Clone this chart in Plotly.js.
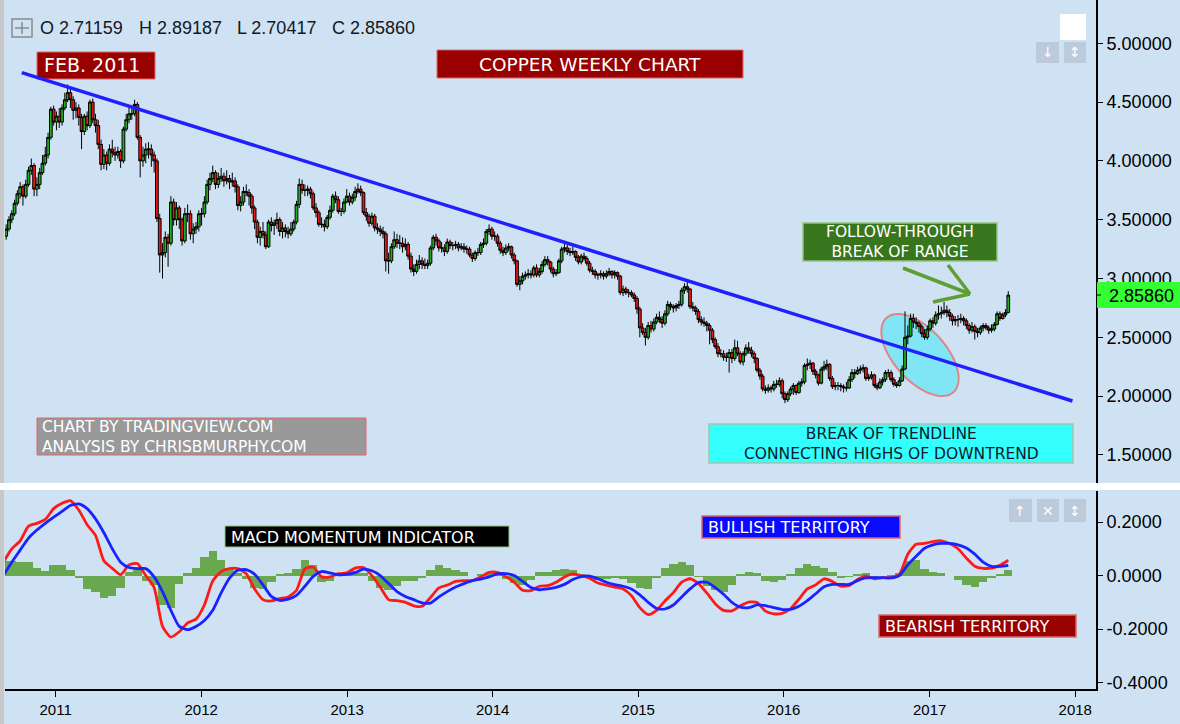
<!DOCTYPE html>
<html><head><meta charset="utf-8">
<script src="https://cdn.plot.ly/plotly-3.0.1.min.js"></script>
<style>html,body{margin:0;padding:0;background:#cfe2f3;}#chart{width:1180px;height:724px;}</style>
</head><body><div id="chart"></div>
<script>
// ---------------- DATA ----------------
const firstWeek = '2010-08-30';   // weekly candles, one per week from here
const opens = [
3.36,3.42,3.50,3.55,3.64,3.72,3.78,3.70,3.80,3.92,3.96,3.76,3.80,3.90,3.98,4.05,4.20,
4.44,4.33,4.38,4.33,4.45,4.52,4.58,4.52,4.43,4.45,4.37,4.25,4.38,4.30,4.50,4.35,4.30,4.14,3.97,4.05,3.98,4.10,4.07,4.05,4.08,4.00,4.27,4.35,4.40,4.40,4.48,4.20,4.00,4.05,4.10,4.10,4.05,4.00,3.51,3.20,3.22,3.35,3.30,3.65,3.50,3.60,3.50,3.32,3.55,3.55,3.38,3.42,
3.44,3.55,3.55,3.65,3.80,3.85,3.90,3.80,3.85,3.87,3.83,3.85,3.82,3.83,3.78,3.62,3.65,3.74,3.73,3.70,3.60,3.48,3.35,3.40,3.37,3.27,3.48,3.45,3.47,3.50,3.40,3.43,3.40,3.38,3.42,3.48,3.63,3.80,3.75,3.75,3.76,3.72,3.60,3.56,3.46,3.46,3.44,3.52,3.58,3.70,3.67,3.57,3.57,
3.65,3.70,3.65,3.69,3.74,3.76,3.73,3.56,3.53,3.47,3.53,3.43,3.42,3.40,3.38,3.15,3.15,3.27,3.33,3.30,3.30,3.27,3.29,3.19,3.08,3.06,3.12,3.15,3.12,3.11,3.13,3.26,3.35,3.32,3.26,3.26,3.23,3.31,3.28,3.28,3.29,3.26,3.27,3.25,3.25,3.20,3.17,3.22,3.22,3.29,3.30,3.40,
3.42,3.36,3.36,3.30,3.24,3.22,3.26,3.27,3.20,3.15,2.95,2.98,3.02,3.03,3.04,3.03,3.09,3.03,3.06,3.12,3.16,3.14,3.08,3.04,3.05,3.15,3.25,3.26,3.23,3.22,3.23,3.18,3.14,3.19,3.17,3.13,3.07,3.06,3.03,3.03,3.04,3.02,3.04,3.06,3.03,3.05,3.02,2.88,2.91,2.88,2.88,2.86,
2.83,2.74,2.58,2.54,2.50,2.60,2.57,2.63,2.67,2.65,2.62,2.70,2.78,2.76,2.75,2.77,2.78,2.90,2.93,2.91,2.76,2.75,2.72,2.65,2.63,2.62,2.60,2.56,2.48,2.42,2.36,2.36,2.33,2.33,2.37,2.32,2.41,2.36,2.29,2.36,2.41,2.39,2.36,2.32,2.22,2.17,2.06,2.05,2.07,2.06,2.10,2.10,
2.13,2.02,1.97,2.02,2.06,2.09,2.03,2.11,2.12,2.26,2.27,2.28,2.21,2.18,2.11,2.23,2.25,2.27,2.15,2.08,2.09,2.09,2.08,2.07,2.07,2.14,2.20,2.19,2.22,2.23,2.24,2.15,2.16,2.18,2.09,2.07,2.12,2.14,2.20,2.20,2.14,2.10,2.09,2.13,2.23,2.50,2.51,2.66,2.63,2.62,2.59,2.53,
2.50,2.57,2.64,2.62,2.69,2.70,2.71,2.73,2.71,2.68,2.64,2.65,2.65,2.66,2.64,2.60,2.56,2.59,2.55,2.54,2.58,2.60,2.58,2.56,2.57,2.61,2.70,2.66,2.69,2.71159];
const highs = [
3.46,3.53,3.58,3.67,3.75,3.82,3.80,3.84,3.95,4.02,3.98,3.86,3.94,4.05,4.12,4.24,4.46,
4.47,4.42,4.45,4.48,4.58,4.65,4.62,4.55,4.50,4.48,4.40,4.40,4.42,4.52,4.53,4.40,4.35,4.18,4.10,4.08,4.14,4.18,4.12,4.12,4.10,4.29,4.40,4.45,4.45,4.52,4.50,4.22,4.12,4.15,4.16,4.14,4.08,4.02,3.55,3.30,3.40,3.38,3.70,3.68,3.65,3.62,3.52,3.60,3.63,3.58,3.47,3.48,
3.58,3.60,3.70,3.84,3.90,3.96,3.92,3.90,3.94,3.90,3.92,3.88,3.90,3.86,3.80,3.70,3.78,3.80,3.76,3.72,3.62,3.50,3.44,3.48,3.40,3.50,3.52,3.50,3.56,3.52,3.48,3.46,3.44,3.48,3.50,3.66,3.85,3.84,3.80,3.79,3.78,3.74,3.64,3.58,3.52,3.50,3.54,3.62,3.72,3.74,3.70,3.60,3.68,
3.76,3.73,3.72,3.78,3.81,3.79,3.74,3.60,3.55,3.56,3.55,3.47,3.45,3.44,3.40,3.22,3.30,3.40,3.38,3.37,3.35,3.34,3.31,3.22,3.12,3.16,3.20,3.18,3.17,3.16,3.28,3.37,3.38,3.34,3.31,3.29,3.34,3.33,3.31,3.32,3.31,3.30,3.30,3.28,3.27,3.22,3.24,3.26,3.31,3.34,3.42,3.46,
3.44,3.40,3.38,3.32,3.27,3.29,3.30,3.28,3.22,3.16,3.02,3.05,3.06,3.08,3.07,3.11,3.12,3.09,3.15,3.19,3.19,3.15,3.10,3.08,3.17,3.27,3.30,3.29,3.26,3.27,3.24,3.20,3.21,3.22,3.19,3.15,3.10,3.08,3.05,3.07,3.06,3.07,3.09,3.07,3.07,3.06,3.03,2.94,2.93,2.91,2.90,2.88,
2.85,2.76,2.62,2.58,2.63,2.64,2.66,2.70,2.72,2.68,2.73,2.81,2.80,2.78,2.79,2.81,2.92,2.96,2.97,2.92,2.80,2.77,2.74,2.68,2.67,2.64,2.62,2.58,2.50,2.45,2.40,2.39,2.37,2.40,2.40,2.48,2.47,2.38,2.38,2.44,2.46,2.42,2.38,2.33,2.24,2.19,2.09,2.10,2.09,2.13,2.14,2.16,
2.15,2.04,2.04,2.08,2.11,2.10,2.13,2.15,2.28,2.32,2.31,2.29,2.23,2.19,2.25,2.30,2.31,2.28,2.17,2.12,2.12,2.11,2.10,2.12,2.17,2.23,2.23,2.25,2.26,2.27,2.25,2.19,2.21,2.19,2.11,2.15,2.16,2.22,2.23,2.22,2.16,2.12,2.16,2.26,2.72,2.60,2.70,2.70,2.67,2.64,2.61,2.57,
2.60,2.66,2.67,2.72,2.77,2.76,2.80,2.77,2.74,2.70,2.68,2.69,2.70,2.68,2.66,2.62,2.63,2.61,2.58,2.60,2.62,2.62,2.60,2.61,2.63,2.72,2.72,2.71,2.74,2.89187];
const lows = [
3.33,3.40,3.47,3.53,3.62,3.68,3.62,3.68,3.78,3.88,3.70,3.70,3.76,3.88,3.96,4.02,4.18,
4.30,4.26,4.28,4.30,4.43,4.50,4.45,4.35,4.36,4.30,4.10,4.22,4.26,4.28,4.32,4.24,4.10,3.92,3.93,3.92,3.96,4.03,4.00,4.02,3.94,3.98,4.25,4.32,4.35,4.38,4.18,3.86,3.95,3.98,4.02,3.95,3.90,3.48,3.05,3.00,3.18,3.10,3.28,3.45,3.45,3.42,3.28,3.30,3.48,3.33,3.30,3.38,
3.40,3.45,3.52,3.63,3.75,3.82,3.76,3.77,3.82,3.78,3.80,3.76,3.78,3.73,3.58,3.57,3.62,3.70,3.62,3.55,3.42,3.30,3.28,3.34,3.25,3.26,3.40,3.37,3.42,3.36,3.34,3.35,3.34,3.36,3.40,3.46,3.60,3.72,3.70,3.70,3.68,3.58,3.52,3.44,3.43,3.40,3.42,3.50,3.56,3.64,3.55,3.53,3.55,
3.64,3.62,3.63,3.66,3.72,3.70,3.54,3.49,3.44,3.45,3.40,3.38,3.36,3.34,3.06,3.04,3.13,3.25,3.26,3.25,3.22,3.24,3.16,3.05,3.02,3.04,3.08,3.08,3.08,3.08,3.11,3.24,3.28,3.23,3.22,3.19,3.21,3.25,3.24,3.25,3.23,3.24,3.22,3.21,3.18,3.14,3.15,3.19,3.20,3.26,3.28,3.37,
3.33,3.32,3.27,3.21,3.19,3.20,3.23,3.17,3.12,2.93,2.90,2.95,2.99,3.00,3.00,3.01,3.01,3.01,3.04,3.10,3.11,3.05,3.01,3.02,3.04,3.13,3.22,3.20,3.19,3.20,3.15,3.12,3.12,3.15,3.11,3.05,3.03,3.00,2.99,3.00,2.99,3.00,3.02,3.00,3.00,2.99,2.86,2.85,2.86,2.84,2.84,2.80,
2.70,2.50,2.52,2.43,2.48,2.54,2.55,2.61,2.62,2.58,2.60,2.68,2.73,2.71,2.72,2.74,2.76,2.87,2.88,2.74,2.72,2.69,2.62,2.60,2.59,2.55,2.44,2.45,2.40,2.33,2.33,2.30,2.29,2.20,2.28,2.30,2.34,2.27,2.26,2.34,2.36,2.33,2.28,2.20,2.14,2.04,2.02,2.03,2.03,2.04,2.07,2.08,
1.98,1.94,1.95,2.00,2.01,2.01,2.02,2.08,2.10,2.22,2.23,2.18,2.15,2.09,2.10,2.21,2.22,2.13,2.06,2.05,2.05,2.04,2.03,2.04,2.06,2.12,2.15,2.18,2.19,2.20,2.13,2.13,2.14,2.07,2.05,2.06,2.09,2.12,2.16,2.12,2.08,2.07,2.08,2.12,2.22,2.44,2.50,2.58,2.57,2.54,2.50,2.48,
2.48,2.55,2.58,2.60,2.65,2.66,2.69,2.67,2.64,2.60,2.60,2.59,2.62,2.60,2.57,2.53,2.54,2.48,2.50,2.52,2.55,2.56,2.53,2.54,2.55,2.60,2.64,2.65,2.67,2.70417];
const closes = [
3.42,3.50,3.55,3.64,3.72,3.78,3.70,3.80,3.92,3.96,3.76,3.80,3.90,3.98,4.05,4.20,4.44,
4.33,4.38,4.33,4.45,4.52,4.58,4.52,4.43,4.45,4.37,4.25,4.38,4.30,4.50,4.35,4.30,4.14,3.97,4.05,3.98,4.10,4.07,4.05,4.08,4.00,4.27,4.35,4.40,4.40,4.48,4.20,4.00,4.05,4.10,4.10,4.05,4.00,3.51,3.20,3.22,3.35,3.30,3.65,3.50,3.60,3.50,3.32,3.55,3.55,3.38,3.42,3.44,
3.55,3.55,3.65,3.80,3.85,3.90,3.80,3.85,3.87,3.83,3.85,3.82,3.83,3.78,3.62,3.65,3.74,3.73,3.70,3.60,3.48,3.35,3.40,3.37,3.27,3.48,3.45,3.47,3.50,3.40,3.43,3.40,3.38,3.42,3.48,3.63,3.80,3.75,3.75,3.76,3.72,3.60,3.56,3.46,3.46,3.44,3.52,3.58,3.70,3.67,3.57,3.57,3.65,
3.70,3.65,3.69,3.74,3.76,3.73,3.56,3.53,3.47,3.53,3.43,3.42,3.40,3.38,3.15,3.15,3.27,3.33,3.30,3.30,3.27,3.29,3.19,3.08,3.06,3.12,3.15,3.12,3.11,3.13,3.26,3.35,3.32,3.26,3.26,3.23,3.31,3.28,3.28,3.29,3.26,3.27,3.25,3.25,3.20,3.17,3.22,3.22,3.29,3.30,3.40,3.42,
3.36,3.36,3.30,3.24,3.22,3.26,3.27,3.20,3.15,2.95,2.98,3.02,3.03,3.04,3.03,3.09,3.03,3.06,3.12,3.16,3.14,3.08,3.04,3.05,3.15,3.25,3.26,3.23,3.22,3.23,3.18,3.14,3.19,3.17,3.13,3.07,3.06,3.03,3.03,3.04,3.02,3.04,3.06,3.03,3.05,3.02,2.88,2.91,2.88,2.88,2.86,2.83,
2.74,2.58,2.54,2.50,2.60,2.57,2.63,2.67,2.65,2.62,2.70,2.78,2.76,2.75,2.77,2.78,2.90,2.93,2.91,2.76,2.75,2.72,2.65,2.63,2.62,2.60,2.56,2.48,2.42,2.36,2.36,2.33,2.33,2.37,2.32,2.41,2.36,2.29,2.36,2.41,2.39,2.36,2.32,2.22,2.17,2.06,2.05,2.07,2.06,2.10,2.10,2.13,
2.02,1.97,2.02,2.06,2.09,2.03,2.11,2.12,2.26,2.27,2.28,2.21,2.18,2.11,2.23,2.25,2.27,2.15,2.08,2.09,2.09,2.08,2.07,2.07,2.14,2.20,2.19,2.22,2.23,2.24,2.15,2.16,2.18,2.09,2.07,2.12,2.14,2.20,2.20,2.14,2.10,2.09,2.13,2.23,2.50,2.51,2.66,2.63,2.62,2.59,2.53,2.50,
2.57,2.64,2.62,2.69,2.70,2.71,2.73,2.71,2.68,2.64,2.65,2.65,2.66,2.64,2.60,2.56,2.59,2.55,2.54,2.58,2.60,2.58,2.56,2.57,2.61,2.70,2.66,2.69,2.71,2.8586];

// MACD (12,26,9), one value every 3 weeks from this date
const macdStart = '2010-08-23';
const macdLine = [
0.05,0.10,0.13,0.185,0.195,0.21,0.25,0.27,0.28,0.245,
0.19,0.15,0.055,0.027,0.003,0.04,0.045,0.0,-0.045,-0.19,
-0.23,-0.21,-0.177,-0.163,-0.11,-0.02,0.015,0.026,0.026,0.007,
-0.05,-0.09,-0.095,-0.086,-0.08,-0.055,0.025,0.032,-0.005,-0.005,
0.007,0.01,0.028,0.03,0.0,-0.043,-0.09,-0.094,-0.1,-0.113,
-0.115,-0.082,-0.046,-0.036,-0.022,-0.019,-0.019,-0.005,0.012,0.012,
-0.004,-0.025,-0.055,-0.056,-0.04,-0.038,-0.025,-0.005,0.006,0.0,
-0.01,-0.028,-0.036,-0.043,-0.05,-0.075,-0.12,-0.146,-0.13,-0.095,
-0.064,-0.025,-0.012,-0.03,-0.065,-0.105,-0.13,-0.132,-0.113,-0.099,
-0.101,-0.133,-0.143,-0.141,-0.124,-0.088,-0.05,-0.035,-0.012,-0.022,
-0.04,-0.037,-0.015,-0.002,-0.012,-0.008,-0.007,0.005,0.08,0.117,
0.12,0.127,0.13,0.12,0.1,0.065,0.035,0.027,0.028,0.038,
0.057];
const signalLine = [
0.0,0.05,0.095,0.14,0.17,0.195,0.218,0.24,0.262,0.268,
0.25,0.212,0.16,0.1,0.05,0.03,0.026,0.026,-0.005,-0.06,
-0.13,-0.19,-0.202,-0.19,-0.168,-0.13,-0.065,-0.01,0.02,0.022,
0.005,-0.035,-0.078,-0.093,-0.088,-0.074,-0.04,-0.003,0.015,0.01,
0.003,0.004,0.011,0.024,0.018,0.0,-0.03,-0.06,-0.078,-0.09,
-0.102,-0.103,-0.08,-0.06,-0.043,-0.03,-0.019,-0.013,-0.005,0.006,
0.007,0.0,-0.022,-0.045,-0.053,-0.05,-0.044,-0.033,-0.015,-0.004,
-0.002,-0.012,-0.025,-0.034,-0.04,-0.05,-0.072,-0.1,-0.123,-0.125,
-0.11,-0.08,-0.05,-0.026,-0.025,-0.045,-0.07,-0.1,-0.118,-0.12,
-0.11,-0.112,-0.12,-0.127,-0.126,-0.115,-0.094,-0.068,-0.042,-0.033,
-0.033,-0.033,-0.019,-0.009,-0.008,-0.008,-0.009,0.0,0.04,0.072,
0.102,0.115,0.12,0.12,0.115,0.103,0.08,0.05,0.034,0.034,
0.038];
const histogram = [
0.055,0.055,0.05,0.05,0.03,0.018,0.04,0.04,0.02,-0.01,
-0.05,-0.06,-0.085,-0.075,-0.045,0.012,0.02,-0.02,-0.035,-0.11,
-0.12,-0.03,0.01,0.03,0.07,0.092,0.06,0.03,0.008,-0.012,
-0.045,-0.05,-0.025,0.005,0.01,0.025,0.06,0.04,-0.025,-0.02,
0.005,0.008,0.017,0.01,-0.02,-0.045,-0.055,-0.04,-0.022,-0.022,
-0.01,0.022,0.04,0.03,0.02,0.012,0.0,0.005,0.015,0.008,
-0.012,-0.028,-0.035,-0.015,0.012,0.015,0.02,0.025,0.02,0.006,
-0.008,-0.018,-0.012,-0.01,-0.012,-0.028,-0.048,-0.05,-0.01,0.03,
0.045,0.05,0.04,-0.005,-0.04,-0.055,-0.06,-0.035,0.005,0.015,
0.01,-0.02,-0.025,-0.015,0.005,0.027,0.045,0.035,0.03,0.012,
-0.008,-0.005,0.005,0.008,-0.004,0.0,0.002,0.008,0.055,0.06,
0.025,0.012,0.01,0.0,-0.015,-0.035,-0.043,-0.025,-0.008,0.005,
0.02];

const priceTicks = [1.5,2.0,2.5,3.0,3.5,4.0,4.5,5.0];
const macdTicks = [-0.4,-0.2,0,0.2];
const macdTickText = ['-0.4000','-0.2000','0.0000','0.2000'];
const lastClose = '2.85860';
const ohlcLabels = ['O 2.71159','H 2.89187','L 2.70417','C 2.85860'];
const trendFrom = {date:'2010-10-08', price:4.750};
const trendTo   = {date:'2017-12-25', price:1.958};

// ---------------- HELPERS ----------------
function addDays(iso, n){const d=new Date(iso+'T00:00:00Z');d.setUTCDate(d.getUTCDate()+n);return d.toISOString().slice(0,10);}
const weeks = closes.map((_,i)=>addDays(firstWeek,7*i));
const macdDates = macdLine.map((_,k)=>addDays(macdStart,21*k));

const W=1180,H=724,M={l:5,r:84,t:0,b:35};
const PW=W-M.l-M.r, PH=H-M.t-M.b;
const px=x=>(x-M.l)/PW, py=y=>1-(y-M.t)/PH;
const shapes=[], ann=[];
function rect(x0,y0,x1,y1,fill,line,lw,layer){shapes.push({type:'rect',xref:'paper',yref:'paper',x0:px(x0),x1:px(x1),y0:py(y1),y1:py(y0),fillcolor:fill,line:{color:line||fill,width:lw==null?1:lw},layer:layer||'above'});}
function seg(x0,y0,x1,y1,color,w){shapes.push({type:'line',xref:'paper',yref:'paper',x0:px(x0),y0:py(y0),x1:px(x1),y1:py(y1),line:{color:color,width:w},layer:'above'});}
function txt(text,x,y,o){ann.push(Object.assign({text:text,xref:'paper',yref:'paper',x:px(x),y:py(y),showarrow:false,xanchor:'left',yanchor:'middle',align:'left',font:{family:'DejaVu Sans',size:16,color:'#ffffff'}},o||{}));}
function ellipsePath(cx,cy,a,b,deg){const th=deg*Math.PI/180;let d='';for(let i=0;i<=90;i++){const t=i/90*2*Math.PI;const X=cx+a*Math.cos(t)*Math.cos(th)-b*Math.sin(t)*Math.sin(th);const Y=cy+a*Math.cos(t)*Math.sin(th)+b*Math.sin(t)*Math.cos(th);d+=(i?'L':'M')+px(X).toFixed(5)+','+py(Y).toFixed(5);}return d+'Z';}

// decorations
rect(0,0,4,724,'#c8c8c8','#c8c8c8',0,'above');
shapes.push({type:'path',xref:'paper',yref:'paper',path:ellipsePath(920,355,50,26,48),fillcolor:'#80e6f6',line:{color:'#e08585',width:2},layer:'below'});
rect(0,483,1180,490,'#ffffff','#ffffff',0);
// crosshair icon
rect(12,19,32,37,'rgba(0,0,0,0)','#8a8a8a',1.5);
seg(22,22,22,34,'#8a8a8a',1.5); seg(15,28,29,28,'#8a8a8a',1.5);
// top right icons
rect(1060,14,1086,40,'#ffffff','#ffffff',0);
rect(1036,42,1059,63,'#bccbdb','#bccbdb',0); rect(1064,42,1086,63,'#bccbdb','#bccbdb',0);
txt('↓',1047.5,52.5,{xanchor:'center',font:{family:'DejaVu Sans',size:14,color:'#ffffff'}});
txt('↕',1075,52.5,{xanchor:'center',font:{family:'DejaVu Sans',size:14,color:'#ffffff'}});
rect(1009,499,1032,522,'#bccbdb','#bccbdb',0); rect(1037,499,1059,522,'#bccbdb','#bccbdb',0); rect(1064,499,1086,522,'#bccbdb','#bccbdb',0);
txt('↑',1020.5,510.5,{xanchor:'center',font:{family:'DejaVu Sans',size:14,color:'#ffffff'}});
txt('✕',1048,510.5,{xanchor:'center',font:{family:'DejaVu Sans',size:14,color:'#ffffff'}});
txt('↕',1075,510.5,{xanchor:'center',font:{family:'DejaVu Sans',size:14,color:'#ffffff'}});
// header OHLC
const hx=[38,137,235,330];
ohlcLabels.forEach((t,i)=>txt(t,hx[i],28,{font:{family:'Liberation Sans, Arial, sans-serif',size:18,color:'#131722'}}));
// text boxes
rect(37,52,155,79,'#990000','#e06666',1); txt('FEB. 2011',42,65.5,{font:{family:'DejaVu Sans',size:19,color:'#fff'}});
rect(437,50,743,78,'#990000','#e06666',1); txt('COPPER WEEKLY CHART',590,64,{xanchor:'center',align:'center',font:{family:'DejaVu Sans',size:18.5,color:'#fff'}});
rect(37,418,366,455,'#999999','#e06666',1); txt('CHART BY TRADINGVIEW.COM<br>ANALYSIS BY CHRISBMURPHY.COM',40,437,{font:{family:'DejaVu Sans',size:15.5,color:'#fff'}});
rect(803,223,997,261,'#38761d','#93c47d',1.5); txt('FOLLOW-THROUGH<br>BREAK OF RANGE',900,242.5,{xanchor:'center',align:'center',font:{family:'DejaVu Sans',size:15.5,color:'#fff'}});
seg(903,268,970,294,'#5e9e32',3.5); seg(948,265,970,294,'#5e9e32',3.5); seg(933,302,970,294,'#5e9e32',3.5);
rect(709,424,1073,463,'#33ffff','#a9c4a9',1.5); txt('BREAK OF TRENDLINE<br>CONNECTING HIGHS OF DOWNTREND',891,444,{xanchor:'center',align:'center',font:{family:'DejaVu Sans',size:15.5,color:'#0d1b2a'}});
rect(225,526,509,547,'#000000','#93c47d',1); txt('MACD MOMENTUM INDICATOR',229,537,{font:{family:'DejaVu Sans',size:16,color:'#fff'}});
rect(702,516,900,538,'#0a0aff','#e06666',1.5); txt('BULLISH TERRITORY',706,527.5,{font:{family:'DejaVu Sans',size:16,color:'#fff'}});
rect(879,615,1076,637,'#990000','#e06666',1.5); txt('BEARISH TERRITORY',883,626.5,{font:{family:'DejaVu Sans',size:16,color:'#fff'}});
// last price label
rect(1097,282,1180,308,'#33ff33','#33ff33',0); seg(1096,295,1101,295,'#000',1);
txt(lastClose,1107,295.5,{font:{family:'Liberation Sans, Arial, sans-serif',size:18,color:'#000'}});
// trendline (data coordinates)
shapes.push({type:'line',xref:'x',yref:'y',x0:trendFrom.date,y0:trendFrom.price,x1:trendTo.date,y1:trendTo.price,line:{color:'#1f1fff',width:3.5},layer:'above'});

// ---------------- TRACES ----------------
const traces=[
 {type:'candlestick',x:weeks,open:opens,high:highs,low:lows,close:closes,xaxis:'x',yaxis:'y',
  increasing:{line:{color:'#000',width:1},fillcolor:'#1fae1f'},decreasing:{line:{color:'#000',width:1},fillcolor:'#f01414'},
  whiskerwidth:0,hoverinfo:'skip',showlegend:false},
 {type:'bar',x:macdDates,y:histogram,width:21*864e5,xaxis:'x',yaxis:'y2',marker:{color:'#6aa84f',line:{width:0}},hoverinfo:'skip',showlegend:false},
 {type:'scatter',mode:'lines',x:macdDates,y:macdLine,xaxis:'x',yaxis:'y2',line:{color:'#ff1a1a',width:2.8,shape:'spline',smoothing:0.6},hoverinfo:'skip',showlegend:false},
 {type:'scatter',mode:'lines',x:macdDates,y:signalLine,xaxis:'x',yaxis:'y2',line:{color:'#1a22ff',width:2.8,shape:'spline',smoothing:0.6},hoverinfo:'skip',showlegend:false}
];
const axFont={family:'Liberation Sans, Arial, sans-serif',size:18,color:'#000'};
const layout={
 width:W,height:H,autosize:false,margin:M,
 paper_bgcolor:'#cfe2f3',plot_bgcolor:'rgba(0,0,0,0)',
 showlegend:false,boxgap:0.02,boxgroupgap:0,bargap:0,
 xaxis:{type:'date',range:['2010-08-27','2018-02-22'],anchor:'y2',showgrid:false,zeroline:false,
   showline:true,linecolor:'#000',linewidth:2,ticks:'outside',ticklen:6,tickcolor:'#000',
   tick0:'2011-01-01',dtick:'M12',tickformat:'%Y',tickfont:{family:'Liberation Sans, Arial, sans-serif',size:15,color:'#000'},
   rangeslider:{visible:false},fixedrange:true},
 yaxis:{domain:[py(483),1],anchor:'x',side:'right',range:[1.261,5.368],showgrid:false,zeroline:false,
   showline:true,linecolor:'#000',linewidth:2,ticks:'outside',ticklen:5,tickcolor:'#000',
   tickvals:priceTicks,tickformat:'.5f',tickfont:axFont,fixedrange:true},
 yaxis2:{domain:[0,py(491)],anchor:'x',side:'right',range:[-0.424,0.316],showgrid:false,zeroline:false,
   showline:true,linecolor:'#000',linewidth:2,ticks:'outside',ticklen:5,tickcolor:'#000',
   tickvals:macdTicks,ticktext:macdTickText,tickfont:axFont,fixedrange:true},
 shapes:shapes,annotations:ann
};
Plotly.newPlot('chart',traces,layout,{displayModeBar:false,staticPlot:true});
</script></body></html>
